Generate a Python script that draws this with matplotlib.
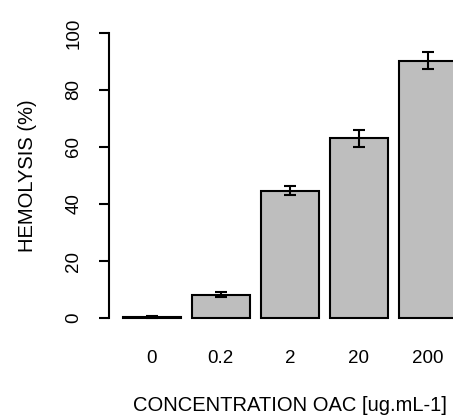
import numpy as np
import matplotlib
matplotlib.use("Agg")
import matplotlib.pyplot as plt

plt.rcParams['font.family'] = ['Liberation Sans', 'DejaVu Sans']

# Hemolysis by OAC concentration
concentrations = ['0', '0.2', '2', '20', '200']
hemolysis = [0.4, 8.2, 44.6, 63.0, 90.2]
hemolysis_err = [0.3, 0.8, 1.6, 3.0, 3.0]
y_ticks = [0, 20, 40, 60, 80, 100]

# bar layout in the style of R's barplot (width 1, space 0.2)
pos = 0.2 + np.arange(len(concentrations)) * 1.2 + 0.5

fig = plt.figure(figsize=(4.53, 4.2), dpi=100)
ax = fig.add_axes([109 / 453, 0.2157, 1 - 109 / 453, 0.7329])

ax.bar(pos, hemolysis, width=1.0, color='#bebebe', edgecolor='black', linewidth=1.5, zorder=2)
ax.errorbar(pos, hemolysis, yerr=hemolysis_err, fmt='none', ecolor='black',
            elinewidth=1.5, capsize=4.5, capthick=1.5, zorder=3)

ax.set_xlim(-0.0435, 5.939)
ax.set_ylim(-4, 104)

for s in ['top', 'right', 'bottom']:
    ax.spines[s].set_visible(False)
ax.spines['left'].set_bounds(0, 100)
ax.spines['left'].set_linewidth(1.5)

ax.set_yticks(y_ticks)
ax.set_yticklabels([str(t) for t in y_ticks], rotation=90, va='center')
ax.tick_params(axis='y', length=7.2, width=1.5, pad=12, labelsize=13.5)
ax.set_xticks(pos)
ax.set_xticklabels(concentrations)
ax.tick_params(axis='x', length=0, pad=14.5, labelsize=13.5)

ax.set_ylabel('HEMOLYSIS (%)', fontsize=14.5, va='center')
ax.yaxis.set_label_coords(-0.238, 0.5)
ax.set_xlabel('CONCENTRATION OAC [ug.mL-1]', fontsize=14.5, va='center')
ax.xaxis.set_label_coords(0.526, -0.2456)

fig.savefig('out.png', dpi=100)
